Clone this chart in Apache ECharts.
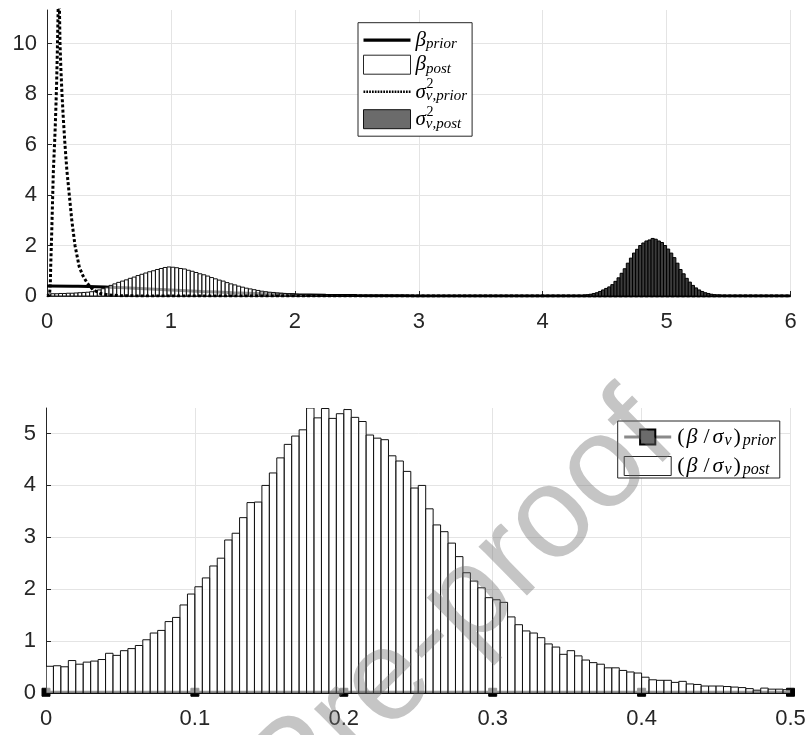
<!DOCTYPE html>
<html>
<head>
<meta charset="utf-8">
<script src="https://cdn.jsdelivr.net/npm/echarts@6/dist/echarts.min.js"></script>
<style>html,body{margin:0;padding:0;background:#fff}#chart{width:809px;height:735px}</style>
</head>
<body>
<div id="chart"></div>
<script>
// ---------- tick labels ----------
const topXTicks = [0, 1, 2, 3, 4, 5, 6];
const topYTicks = [0, 2, 4, 6, 8, 10];
const topYMax = 11.33;
const bottomXTicks = [0, 0.1, 0.2, 0.3, 0.4, 0.5];
const bottomYTicks = [0, 1, 2, 3, 4, 5];
const bottomYMax = 5.49;

// ---------- top panel data ----------
const betaPriorX = [0, 0.25, 0.5, 0.75, 1, 1.25, 1.5, 1.75, 2, 2.25, 2.5, 2.75, 3, 3.5, 4, 5, 6];
const betaPriorY = [0.40, 0.39, 0.35, 0.30, 0.24, 0.18, 0.13, 0.09, 0.054, 0.032, 0.018, 0.009, 0.004, 0.001, 0, 0, 0];

const betaPostStart = 0;
const betaPostBinWidth = 1 / 32;
const betaPostDensity = [
  0.08, 0.09, 0.09, 0.10, 0.10, 0.11, 0.11, 0.12, 0.13, 0.14,
  0.15, 0.17, 0.20, 0.24, 0.29, 0.35, 0.42, 0.48, 0.54, 0.59,
  0.64, 0.70, 0.75, 0.81, 0.86, 0.91, 0.96, 1.00, 1.05, 1.09,
  1.13, 1.15, 1.14, 1.12, 1.09, 1.07, 1.02, 0.98, 0.93, 0.88,
  0.84, 0.79, 0.73, 0.68, 0.63, 0.59, 0.53, 0.48, 0.44, 0.39,
  0.35, 0.31, 0.28, 0.25, 0.22, 0.19, 0.17, 0.15, 0.14, 0.12,
  0.11, 0.10, 0.09, 0.08, 0.07, 0.06, 0.05, 0.05, 0.04, 0.04,
  0.035, 0.03, 0.03, 0.025, 0.02, 0.02, 0.015, 0.015, 0.01, 0.01
];

const sigmaPriorX = [0, 0.015, 0.02, 0.024, 0.027, 0.03, 0.038, 0.045, 0.051, 0.058, 0.065, 0.072, 0.078, 0.083, 0.087, 0.091, 0.095, 0.098, 0.101, 0.105, 0.112, 0.121, 0.132, 0.145, 0.16, 0.18, 0.2, 0.226, 0.26, 0.29, 0.326, 0.37, 0.43, 0.5, 0.6, 0.8, 6];
const sigmaPriorY = [0, 0, 0.03, 0.1, 0.5, 1.2, 2.5, 3.8, 4.9, 5.7, 6.5, 7.5, 8.5, 9.6, 10.6, 11.6, 12.2, 12.0, 11.2, 10.0, 9.0, 8.0, 7.0, 6.0, 5.0, 4.0, 3.0, 2.0, 1.16, 0.8, 0.5, 0.25, 0.1, 0.04, 0.01, 0, 0];

const sigmaPostStart = 4.3;
const sigmaPostBinWidth = 0.025;
const sigmaPostDensity = [
  0.02, 0.03, 0.05, 0.07, 0.10, 0.13, 0.18, 0.24, 0.30, 0.36,
  0.45, 0.58, 0.72, 0.90, 1.08, 1.30, 1.50, 1.70, 1.85, 2.00,
  2.10, 2.18, 2.22, 2.28, 2.25, 2.18, 2.12, 2.00, 1.86, 1.70,
  1.52, 1.30, 1.05, 0.88, 0.70, 0.55, 0.42, 0.32, 0.24, 0.18,
  0.13, 0.10, 0.07, 0.05, 0.04, 0.03, 0.02, 0.015, 0.01, 0.01
];

// ---------- bottom panel data ----------
const ratioPriorX = [0, 0.1, 0.2, 0.3, 0.4, 0.5];
const ratioPriorY = [0.02, 0.02, 0.02, 0.02, 0.02, 0.02];

const ratioPostStart = 0;
const ratioPostBinWidth = 0.005;
const ratioPostDensity = [
  0.52, 0.53, 0.51, 0.63, 0.56, 0.60, 0.62, 0.65, 0.77, 0.73,
  0.82, 0.86, 0.92, 1.03, 1.16, 1.21, 1.38, 1.46, 1.70, 1.91,
  2.05, 2.22, 2.45, 2.60, 2.95, 3.08, 3.38, 3.67, 3.68, 4.00,
  4.24, 4.53, 4.79, 4.95, 5.07, 5.49, 5.30, 5.48, 5.29, 5.38,
  5.46, 5.31, 5.23, 4.97, 4.91, 4.88, 4.57, 4.47, 4.27, 3.95,
  4.00, 3.55, 3.24, 3.11, 2.89, 2.63, 2.32, 2.16, 2.03, 1.84,
  1.80, 1.75, 1.47, 1.32, 1.20, 1.16, 1.07, 0.95, 0.89, 0.75,
  0.82, 0.72, 0.64, 0.59, 0.56, 0.49, 0.49, 0.44, 0.41, 0.39,
  0.31, 0.26, 0.25, 0.25, 0.21, 0.23, 0.18, 0.17, 0.14, 0.14,
  0.14, 0.13, 0.12, 0.11, 0.09, 0.06, 0.10, 0.08, 0.08, 0.07
];

// ---------- helpers ----------
const pairs = (xs, ys) => xs.map((x, i) => [x, ys[i]]);
const bins = (start, w, vals) => vals.map((v, i) => [start + i * w, start + (i + 1) * w, v]);

function histRender(fill, stroke) {
  return function (params, api) {
    const a = api.coord([api.value(0), api.value(2)]);
    const b = api.coord([api.value(1), 0]);
    return {
      type: 'rect',
      shape: { x: a[0], y: a[1], width: b[0] - a[0], height: b[1] - a[1] },
      style: { fill: fill, stroke: stroke, lineWidth: 1 }
    };
  };
}

const AX = '#262626';
const GRID = '#e4e4e4';
const labelFont = { fontSize: 22, color: AX, fontFamily: '"Liberation Sans", Arial, sans-serif' };

function xAxisOf(gridIndex, ticks) {
  return {
    type: 'value', gridIndex,
    min: ticks[0], max: ticks[ticks.length - 1], interval: ticks[1] - ticks[0],
    axisLine: { show: true, onZero: false, lineStyle: { color: AX, width: 1 } },
    axisTick: { show: true, inside: true, length: 5, lineStyle: { color: AX } },
    axisLabel: Object.assign({ margin: 15 }, labelFont),
    splitLine: { show: true, lineStyle: { color: GRID, width: 1 } }
  };
}
function yAxisOf(gridIndex, ticks, max) {
  return {
    type: 'value', gridIndex,
    min: ticks[0], max: max, interval: ticks[1] - ticks[0],
    axisLine: { show: true, onZero: false, lineStyle: { color: AX, width: 1 } },
    axisTick: { show: true, inside: true, length: 5, lineStyle: { color: AX } },
    axisLabel: Object.assign({ margin: 10, showMaxLabel: false }, labelFont),
    splitLine: { show: true, showMaxLine: false, lineStyle: { color: GRID, width: 1 } }
  };
}

const serif = '"Liberation Serif", "DejaVu Serif", serif';
const rich = {
  m: { fontFamily: serif, fontStyle: 'italic', fontSize: 21, lineHeight: 14, color: '#000' },
  mb: { fontFamily: serif, fontStyle: 'italic', fontSize: 22, lineHeight: 14, color: '#000', padding: [0, 3, 0, 1] },
  mc: { fontFamily: serif, fontStyle: 'italic', fontSize: 22, lineHeight: 14, color: '#000', padding: [0, 1, 0, 0] },
  r: { fontFamily: serif, fontSize: 22, lineHeight: 14, color: '#000', padding: [0, 1, 0, 1] },
  rs: { fontFamily: serif, fontSize: 22, lineHeight: 14, color: '#000', padding: [0, 3, 0, 3] },
  s: { fontFamily: serif, fontStyle: 'italic', fontSize: 15, lineHeight: 6, padding: [8, 0, 0, 0], color: '#000' },
  sb: { fontFamily: serif, fontStyle: 'italic', fontSize: 16, lineHeight: 6, padding: [8, 0, 0, 1], color: '#000' },
  s2: { fontFamily: serif, fontStyle: 'italic', fontSize: 16, lineHeight: 6, padding: [7, 1, 0, 0], color: '#000' },
  sup: { fontFamily: serif, fontSize: 14, lineHeight: 1, padding: [0, 0, 0, 11], color: '#000' }
};
const legendText = {
  'beta_prior': '{m|β}{s|prior}',
  'beta_post': '{m|β}{s|post}',
  'sigma_prior': '{sup|2}\n{m|σ}{s|ν,prior}',
  'sigma_post': '{sup|2}\n{m|σ}{s|ν,post}',
  'ratio_prior': '{r|(}{mb|β}{rs|/}{mc|σ}{s2|ν}{r|)}{sb|prior}',
  'ratio_post': '{r|(}{mb|β}{rs|/}{mc|σ}{s2|ν}{r|)}{sb|post}'
};

let dotPath = '';
for (let i = 0; i < 17; i++) dotPath += 'M' + (i * 2.8) + ' 0h1.7v2.6h-1.7z';

const legendBase = {
  orient: 'vertical', align: 'left', selectedMode: false,
  itemWidth: 47, itemHeight: 19,
  backgroundColor: '#fff', borderColor: AX, borderWidth: 1, borderRadius: 0,
  formatter: name => legendText[name],
  textStyle: { rich: rich, color: '#000' }
};

const option = {
  animation: false,
  backgroundColor: '#fff',
  grid: [
    { left: 47, right: 18.5, top: 10, height: 286, containLabel: false, outerBoundsMode: 'none' },
    { left: 46, right: 18.5, top: 408, height: 285.3, containLabel: false, outerBoundsMode: 'none' }
  ],
  xAxis: [xAxisOf(0, topXTicks), xAxisOf(1, bottomXTicks)],
  yAxis: [yAxisOf(0, topYTicks, topYMax), yAxisOf(1, bottomYTicks, bottomYMax)],
  legend: [
    Object.assign({}, legendBase, {
      left: 358, top: 22.7, padding: [6, 5, 5, 5], itemGap: 1.5,
      data: [
        { name: 'beta_prior', icon: 'path://M0 0h47v3.2h-47z', itemStyle: { color: '#000' } },
        { name: 'beta_post', icon: 'rect', itemStyle: { color: '#fff', borderColor: AX, borderWidth: 1 } },
        { name: 'sigma_prior', icon: 'path://' + dotPath, itemStyle: { color: '#000' } },
        { name: 'sigma_post', icon: 'rect', itemStyle: { color: '#6b6b6b', borderColor: '#111', borderWidth: 1 } }
      ]
    }),
    Object.assign({}, legendBase, {
      left: 617.7, top: 421, padding: [4, 4, 0, 5], itemGap: 5,
      data: [
        { name: 'ratio_prior', lineStyle: { color: '#8a8a8a', width: 3 }, itemStyle: { color: '#6a6a6a', borderColor: '#000', borderWidth: 2 } },
        { name: 'ratio_post', icon: 'rect', itemStyle: { color: '#fff', borderColor: AX, borderWidth: 1 } }
      ]
    })
  ],
  series: [
    {
      name: 'beta_prior', type: 'line', xAxisIndex: 0, yAxisIndex: 0, z: 2,
      data: pairs(betaPriorX, betaPriorY), smooth: 0.3, symbol: 'none', clip: true,
      color: '#000', lineStyle: { color: '#000', width: 3 }
    },
    {
      name: 'beta_post', type: 'custom', xAxisIndex: 0, yAxisIndex: 0, z: 3, clip: true,
      data: bins(betaPostStart, betaPostBinWidth, betaPostDensity),
      encode: { x: [0, 1], y: 2 },
      renderItem: histRender('rgba(255,255,255,0.6)', '#111'),
      itemStyle: { color: '#fff' }
    },
    {
      name: 'sigma_prior', type: 'line', xAxisIndex: 0, yAxisIndex: 0, z: 4,
      data: pairs(sigmaPriorX, sigmaPriorY), symbol: 'none', clip: true,
      color: '#000', lineStyle: { color: '#000', width: 3, type: [3, 2.2] }
    },
    {
      name: 'sigma_post', type: 'custom', xAxisIndex: 0, yAxisIndex: 0, z: 5, clip: true,
      data: bins(sigmaPostStart, sigmaPostBinWidth, sigmaPostDensity),
      encode: { x: [0, 1], y: 2 },
      renderItem: histRender('#3c3c3c', '#000'),
      itemStyle: { color: '#6b6b6b' }
    },
    {
      name: 'ratio_prior', type: 'line', xAxisIndex: 1, yAxisIndex: 1, z: 2,
      data: pairs(ratioPriorX, ratioPriorY), symbol: 'rect', symbolSize: 8, showSymbol: true, clip: false,
      color: '#000', lineStyle: { color: '#000', width: 3 },
      itemStyle: { color: '#000', borderColor: '#000' }
    },
    {
      name: 'ratio_post', type: 'custom', xAxisIndex: 1, yAxisIndex: 1, z: 3, clip: true,
      data: bins(ratioPostStart, ratioPostBinWidth, ratioPostDensity),
      encode: { x: [0, 1], y: 2 },
      renderItem: histRender('rgba(255,255,255,0.6)', '#111'),
      itemStyle: { color: '#fff' }
    }
  ],
  graphic: [
    {
      type: 'text', z: 100, silent: true,
      x: 655, y: 419, rotation: 0.778,
      style: {
        text: 'Journal Pre-proof',
        fontSize: 130, fontFamily: '"Liberation Sans", Arial, sans-serif',
        fill: 'rgba(110,110,110,0.4)',
        align: 'right', verticalAlign: 'middle'
      }
    }
  ]
};

const chart = echarts.init(document.getElementById('chart'), null, { renderer: 'canvas' });
chart.setOption(option);
</script>
</body>
</html>
